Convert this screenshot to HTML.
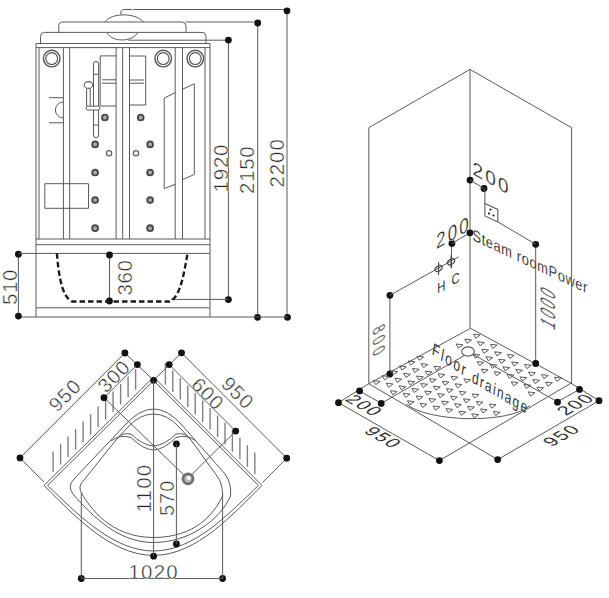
<!DOCTYPE html>
<html><head><meta charset="utf-8"><style>
html,body{margin:0;padding:0;background:#fff;width:609px;height:598px;overflow:hidden}
svg{display:block;font-family:"Liberation Sans",sans-serif}
</style></head><body>
<svg width="609" height="598" viewBox="0 0 609 598">
<rect width="609" height="598" fill="#fff"/>
<line x1="133.0" y1="9.5" x2="287.0" y2="9.5" stroke="#5a5a5a" stroke-width="1.0"/>
<line x1="287.0" y1="10.5" x2="287.0" y2="317.3" stroke="#5a5a5a" stroke-width="1.0"/>
<circle cx="287.0" cy="10.8" r="3.4" fill="#111"/>
<circle cx="287.5" cy="317.3" r="3.4" fill="#111"/>
<line x1="186.0" y1="22.0" x2="257.7" y2="22.0" stroke="#5a5a5a" stroke-width="1.0"/>
<line x1="257.7" y1="22.0" x2="257.7" y2="317.3" stroke="#5a5a5a" stroke-width="1.0"/>
<circle cx="257.7" cy="23.0" r="3.4" fill="#111"/>
<circle cx="257.5" cy="317.3" r="3.4" fill="#111"/>
<line x1="128.5" y1="40.2" x2="228.4" y2="40.2" stroke="#5a5a5a" stroke-width="1.0"/>
<line x1="228.4" y1="40.2" x2="228.4" y2="299.6" stroke="#5a5a5a" stroke-width="1.0"/>
<circle cx="228.4" cy="40.1" r="3.4" fill="#111"/>
<circle cx="228.4" cy="299.6" r="3.4" fill="#111"/>
<line x1="171.0" y1="299.4" x2="228.4" y2="299.4" stroke="#5a5a5a" stroke-width="1.0"/>
<line x1="18.4" y1="317.0" x2="287.5" y2="317.0" stroke="#5a5a5a" stroke-width="1.0"/>
<line x1="18.4" y1="254.2" x2="18.4" y2="316.1" stroke="#5a5a5a" stroke-width="1.0"/>
<circle cx="18.4" cy="254.2" r="3.4" fill="#111"/>
<circle cx="18.4" cy="316.1" r="3.4" fill="#111"/>
<line x1="18.4" y1="253.4" x2="210.0" y2="253.4" stroke="#5a5a5a" stroke-width="1.0"/>
<line x1="109.5" y1="255.0" x2="109.5" y2="301.0" stroke="#5a5a5a" stroke-width="1.0"/>
<circle cx="109.5" cy="255.0" r="3.4" fill="#111"/>
<circle cx="109.5" cy="301.0" r="3.4" fill="#111"/>
<text transform="translate(17,305) rotate(-90)" font-size="20.5" fill="#2a2a2a" stroke="#fff" stroke-width="0.45" letter-spacing="0.6" >510</text>
<text transform="translate(132,295.5) rotate(-90)" font-size="20.5" fill="#2a2a2a" stroke="#fff" stroke-width="0.45" letter-spacing="0.6" >360</text>
<text transform="translate(227.5,192.5) rotate(-90)" font-size="20.5" fill="#2a2a2a" stroke="#fff" stroke-width="0.45" letter-spacing="0.8" >1920</text>
<text transform="translate(254,194) rotate(-90)" font-size="20.5" fill="#2a2a2a" stroke="#fff" stroke-width="0.45" letter-spacing="0.7" >2150</text>
<text transform="translate(283.8,187.5) rotate(-90)" font-size="20.5" fill="#2a2a2a" stroke="#fff" stroke-width="0.45" letter-spacing="0.9" >2200</text>
<path d="M58.8,32.4 V26 Q58.8,22 63,22 H182 Q186,22 186,26 V32.4" stroke="#5a5a5a" stroke-width="1.0" fill="none" />
<path d="M40.5,43.4 V36.4 Q40.5,32.4 44.5,32.4 H202 Q206,32.4 206,36.4 V43.4" stroke="#5a5a5a" stroke-width="1.0" fill="none" />
<path d="M105,22 C111,12.5 136,12.5 143.3,22" stroke="#5a5a5a" stroke-width="1.0" fill="none" />
<path d="M107.3,33 C112,42.3 132,42.3 137.4,33" stroke="#5a5a5a" stroke-width="1.0" fill="none" />
<path d="M121,14.8 Q120,9.5 124,9.5 H132" stroke="#5a5a5a" stroke-width="1.0" fill="none" />
<path d="M36,317 V43.5 H210 V317" stroke="#5a5a5a" stroke-width="1.0" fill="none" />
<line x1="36.0" y1="47.6" x2="210.0" y2="47.6" stroke="#5a5a5a" stroke-width="1.0"/>
<line x1="39.0" y1="47.6" x2="39.0" y2="239.0" stroke="#5a5a5a" stroke-width="1.0"/>
<line x1="205.0" y1="47.6" x2="205.0" y2="239.0" stroke="#5a5a5a" stroke-width="1.0"/>
<line x1="63.4" y1="47.6" x2="63.4" y2="239.0" stroke="#5a5a5a" stroke-width="1.0"/>
<line x1="69.7" y1="47.6" x2="69.7" y2="239.0" stroke="#5a5a5a" stroke-width="1.0"/>
<line x1="116.1" y1="47.6" x2="116.1" y2="239.0" stroke="#5a5a5a" stroke-width="1.0"/>
<line x1="122.7" y1="47.6" x2="122.7" y2="239.0" stroke="#5a5a5a" stroke-width="1.0"/>
<line x1="129.5" y1="47.6" x2="129.5" y2="239.0" stroke="#5a5a5a" stroke-width="1.0"/>
<line x1="175.2" y1="47.6" x2="175.2" y2="239.0" stroke="#5a5a5a" stroke-width="1.0"/>
<line x1="182.5" y1="47.6" x2="182.5" y2="239.0" stroke="#5a5a5a" stroke-width="1.0"/>
<line x1="36.0" y1="239.0" x2="210.0" y2="239.0" stroke="#5a5a5a" stroke-width="1.0"/>
<line x1="36.0" y1="244.7" x2="210.0" y2="244.7" stroke="#5a5a5a" stroke-width="1.0"/>
<line x1="36.0" y1="307.8" x2="210.0" y2="307.8" stroke="#5a5a5a" stroke-width="1.0"/>
<circle cx="51.7" cy="58.6" r="8.3" stroke="#555" stroke-width="1.4" fill="none"/>
<circle cx="51.7" cy="58.6" r="5.9" stroke="#555" stroke-width="1.2" fill="none"/>
<circle cx="163.2" cy="58.6" r="8.3" stroke="#555" stroke-width="1.4" fill="none"/>
<circle cx="163.2" cy="58.6" r="5.9" stroke="#555" stroke-width="1.2" fill="none"/>
<circle cx="195.3" cy="58.6" r="8.3" stroke="#555" stroke-width="1.4" fill="none"/>
<circle cx="195.3" cy="58.6" r="5.9" stroke="#555" stroke-width="1.2" fill="none"/>
<line x1="49.0" y1="97.7" x2="63.4" y2="97.7" stroke="#5a5a5a" stroke-width="1.0"/>
<line x1="49.0" y1="122.8" x2="63.4" y2="122.8" stroke="#5a5a5a" stroke-width="1.0"/>
<path d="M63.4,102 A8,8 0 0 0 63.4,118" stroke="#5a5a5a" stroke-width="1.0" fill="none" />
<path d="M116.1,55.9 H100.2 V106 H116.1" stroke="#5a5a5a" stroke-width="1.0" fill="none" />
<path d="M102,79.8 H116 M102,83.2 H116" stroke="#5a5a5a" stroke-width="1.0" fill="none" />
<path d="M129.5,56 H145.7 V105 H129.5" stroke="#5a5a5a" stroke-width="1.0" fill="none" />
<path d="M130,80 H144 M130,83.2 H144" stroke="#5a5a5a" stroke-width="1.0" fill="none" />
<path d="M93.5,63 Q93.5,61.5 96,61.5 Q98.6,61.5 98.6,63 V136 Q98.6,137.5 96,137.5 Q93.5,137.5 93.5,136 Z" stroke="#5a5a5a" stroke-width="1.0" fill="none" />
<line x1="93.5" y1="74.3" x2="98.6" y2="74.3" stroke="#5a5a5a" stroke-width="1.0"/>
<line x1="93.5" y1="125.0" x2="98.6" y2="125.0" stroke="#5a5a5a" stroke-width="1.0"/>
<ellipse cx="88.5" cy="85" rx="4.3" ry="3.4" stroke="#5a5a5a" stroke-width="1.1" fill="#fff"/>
<path d="M86.6,88.5 V106 M90.2,88.5 V106" stroke="#5a5a5a" stroke-width="1.0" fill="none" />
<path d="M87,106.2 H99 Q101,108 99,110 H87 Q85,108 87,106.2 Z" stroke="#5a5a5a" stroke-width="1.0" fill="#fff" />
<circle cx="104.9" cy="117.5" r="2.9" stroke="#4a4a4a" stroke-width="1.9" fill="#aaa"/>
<circle cx="95.1" cy="144.4" r="2.9" stroke="#4a4a4a" stroke-width="1.9" fill="#aaa"/>
<circle cx="95.1" cy="172.5" r="2.9" stroke="#4a4a4a" stroke-width="1.9" fill="#aaa"/>
<circle cx="95.1" cy="200.1" r="2.9" stroke="#4a4a4a" stroke-width="1.9" fill="#aaa"/>
<circle cx="95.1" cy="228.2" r="2.9" stroke="#4a4a4a" stroke-width="1.9" fill="#aaa"/>
<circle cx="140.7" cy="117.5" r="2.9" stroke="#4a4a4a" stroke-width="1.9" fill="#aaa"/>
<circle cx="150.1" cy="144.4" r="2.9" stroke="#4a4a4a" stroke-width="1.9" fill="#aaa"/>
<circle cx="150.1" cy="172.5" r="2.9" stroke="#4a4a4a" stroke-width="1.9" fill="#aaa"/>
<circle cx="150.1" cy="200.1" r="2.9" stroke="#4a4a4a" stroke-width="1.9" fill="#aaa"/>
<circle cx="150.1" cy="228.2" r="2.9" stroke="#4a4a4a" stroke-width="1.9" fill="#aaa"/>
<circle cx="109.1" cy="153.3" r="2.6" stroke="#606060" stroke-width="1.3" fill="none"/>
<circle cx="136.0" cy="153.3" r="2.6" stroke="#606060" stroke-width="1.3" fill="none"/>
<path d="M175.2,92.6 L164.2,98.2 V188.6 L175.2,184.3" stroke="#5a5a5a" stroke-width="1.0" fill="none" />
<path d="M183,89 L194.3,83.8 V174.5 L183,179.4" stroke="#5a5a5a" stroke-width="1.0" fill="none" />
<path d="M44.8,183.7 H88.5 V208.3 H44.8 Z" stroke="#5a5a5a" stroke-width="1.0" fill="none" />
<path d="M56.9,253.4 C58.5,272 61,296 72,301.5 H169.5 C181,297 184,272 187.6,253.4" stroke="#1a1a1a" stroke-width="2.4" fill="none" stroke-dasharray="5.5,3"/>
<path d="M368.8,383.7 V127.7 L470,69.4 L571.6,127.7 V383.2" stroke="#5a5a5a" stroke-width="1.0" fill="none" />
<line x1="470.0" y1="69.4" x2="470.0" y2="328.3" stroke="#5a5a5a" stroke-width="1.0"/>
<line x1="470.5" y1="328.3" x2="368.8" y2="383.7" stroke="#5a5a5a" stroke-width="1.0"/>
<line x1="470.5" y1="328.3" x2="571.0" y2="383.2" stroke="#5a5a5a" stroke-width="1.0"/>
<line x1="368.8" y1="383.7" x2="497.7" y2="459.6" stroke="#5a5a5a" stroke-width="1.0"/>
<line x1="571.0" y1="383.2" x2="439.4" y2="460.6" stroke="#5a5a5a" stroke-width="1.0"/>
<line x1="469.5" y1="352.5" x2="381.2" y2="403.4" stroke="#5a5a5a" stroke-width="1.0"/>
<line x1="469.5" y1="352.5" x2="557.5" y2="401.7" stroke="#5a5a5a" stroke-width="1.0"/>
<path d="M406,404 C428,422 508,424.5 530,405.5" stroke="#5a5a5a" stroke-width="1.0" fill="none" />
<line x1="338.5" y1="402.7" x2="368.8" y2="383.7" stroke="#5a5a5a" stroke-width="1.0"/>
<line x1="359.6" y1="390.9" x2="381.2" y2="403.4" stroke="#5a5a5a" stroke-width="1.0"/>
<line x1="338.5" y1="402.7" x2="439.4" y2="460.6" stroke="#5a5a5a" stroke-width="1.0"/>
<circle cx="359.6" cy="390.9" r="3.4" fill="#111"/>
<circle cx="338.5" cy="402.7" r="3.4" fill="#111"/>
<circle cx="381.2" cy="403.4" r="3.4" fill="#111"/>
<circle cx="439.4" cy="460.6" r="3.4" fill="#111"/>
<line x1="571.0" y1="383.2" x2="599.0" y2="400.7" stroke="#5a5a5a" stroke-width="1.0"/>
<line x1="557.5" y1="401.7" x2="579.5" y2="389.4" stroke="#5a5a5a" stroke-width="1.0"/>
<line x1="497.7" y1="459.6" x2="599.0" y2="400.7" stroke="#5a5a5a" stroke-width="1.0"/>
<circle cx="579.5" cy="389.4" r="3.4" fill="#111"/>
<circle cx="599.0" cy="400.7" r="3.4" fill="#111"/>
<circle cx="557.5" cy="402.2" r="3.4" fill="#111"/>
<circle cx="497.7" cy="459.6" r="3.4" fill="#111"/>
<line x1="389.9" y1="295.3" x2="389.9" y2="374.0" stroke="#5a5a5a" stroke-width="1.0"/>
<circle cx="389.9" cy="295.3" r="3.4" fill="#111"/>
<circle cx="389.9" cy="374.0" r="3.4" fill="#111"/>
<line x1="389.9" y1="295.3" x2="458.6" y2="256.8" stroke="#5a5a5a" stroke-width="1.0"/>
<line x1="451.5" y1="243.4" x2="451.5" y2="268.0" stroke="#5a5a5a" stroke-width="1.0"/>
<circle cx="451.9" cy="243.4" r="3.4" fill="#111"/>
<line x1="451.9" y1="243.4" x2="470.0" y2="232.8" stroke="#5a5a5a" stroke-width="1.0"/>
<circle cx="470.0" cy="232.8" r="3.4" fill="#111"/>
<ellipse cx="451.1" cy="261.8" rx="3.9" ry="2.5" transform="rotate(-35 451.1 261.8)" stroke="#444" stroke-width="1.2" fill="none"/>
<line x1="451.1" y1="255.3" x2="451.1" y2="268.3" stroke="#444" stroke-width="1.1"/>
<ellipse cx="438.6" cy="268.5" rx="3.9" ry="2.5" transform="rotate(-35 438.6 268.5)" stroke="#444" stroke-width="1.2" fill="none"/>
<line x1="438.6" y1="262.0" x2="438.6" y2="275.0" stroke="#444" stroke-width="1.1"/>
<line x1="535.7" y1="244.3" x2="535.7" y2="363.5" stroke="#5a5a5a" stroke-width="1.0"/>
<circle cx="535.7" cy="244.3" r="3.4" fill="#111"/>
<circle cx="535.7" cy="363.5" r="3.4" fill="#111"/>
<line x1="497.8" y1="221.9" x2="535.7" y2="244.3" stroke="#5a5a5a" stroke-width="1.0"/>
<circle cx="470.0" cy="180.1" r="3.4" fill="#111"/>
<circle cx="484.0" cy="188.5" r="3.4" fill="#111"/>
<line x1="470.0" y1="180.1" x2="484.0" y2="188.5" stroke="#5a5a5a" stroke-width="1.0"/>
<line x1="484.9" y1="188.5" x2="484.9" y2="203.5" stroke="#5a5a5a" stroke-width="1.0"/>
<path d="M484.9,203.5 L497.8,209.4 V221.9 L484.9,216 Z" stroke="#5a5a5a" stroke-width="1.1" fill="none" />
<circle cx="490.5" cy="209.5" r="1.1" fill="#222"/>
<circle cx="489" cy="213.5" r="1.1" fill="#222"/>
<circle cx="493.5" cy="215.5" r="1.1" fill="#222"/>
<ellipse cx="468" cy="351.5" rx="6.3" ry="4.6" stroke="#5a5a5a" stroke-width="1.1" fill="#fff"/>
<path d="M373.3,380.6 L380.1,381.4 L375.7,384.7ZM382.1,375.7 L388.9,376.5 L384.5,379.8ZM386.2,383.2 L393.0,384.0 L388.6,387.3ZM390.4,390.7 L397.2,391.5 L392.8,394.8ZM390.8,370.8 L397.6,371.6 L393.2,374.9ZM394.9,378.3 L401.7,379.1 L397.3,382.4ZM399.1,385.8 L405.9,386.6 L401.5,389.9ZM403.2,393.3 L410.0,394.1 L405.6,397.4ZM407.4,400.8 L414.2,401.6 L409.8,404.9ZM399.5,365.9 L406.3,366.7 L401.9,370.0ZM403.6,373.4 L410.4,374.2 L406.0,377.5ZM407.8,380.9 L414.6,381.7 L410.2,385.0ZM411.9,388.4 L418.7,389.2 L414.3,392.5ZM416.1,395.9 L422.9,396.7 L418.5,400.0ZM420.2,403.4 L427.0,404.2 L422.6,407.5ZM408.2,361.0 L415.0,361.8 L410.6,365.1ZM412.4,368.5 L419.2,369.3 L414.8,372.6ZM416.5,376.0 L423.3,376.8 L418.9,380.1ZM420.7,383.5 L427.5,384.3 L423.1,387.6ZM424.8,391.0 L431.6,391.8 L427.2,395.1ZM429.0,398.5 L435.8,399.3 L431.4,402.6ZM433.1,406.0 L439.9,406.8 L435.5,410.1ZM416.9,356.1 L423.7,356.9 L419.3,360.2ZM421.1,363.6 L427.9,364.4 L423.5,367.7ZM425.2,371.1 L432.0,371.9 L427.6,375.2ZM429.4,378.6 L436.2,379.4 L431.8,382.7ZM433.5,386.1 L440.3,386.9 L435.9,390.2ZM437.7,393.6 L444.5,394.4 L440.1,397.7ZM441.8,401.1 L448.6,401.9 L444.2,405.2ZM446.0,408.6 L452.8,409.4 L448.4,412.7ZM434.0,366.2 L440.8,367.0 L436.4,370.3ZM438.1,373.7 L444.9,374.5 L440.5,377.8ZM442.3,381.2 L449.1,382.0 L444.7,385.3ZM446.4,388.7 L453.2,389.5 L448.8,392.8ZM450.6,396.2 L457.4,397.0 L453.0,400.3ZM454.7,403.7 L461.5,404.5 L457.1,407.8ZM458.9,411.2 L465.7,412.0 L461.3,415.3ZM451.0,376.3 L457.8,377.1 L453.4,380.4ZM455.1,383.8 L461.9,384.6 L457.5,387.9ZM459.3,391.3 L466.1,392.1 L461.7,395.4ZM463.4,398.8 L470.2,399.6 L465.8,402.9ZM467.6,406.3 L474.4,407.1 L470.0,410.4ZM471.7,413.8 L478.5,414.6 L474.1,417.9ZM463.9,378.9 L470.6,379.7 L466.2,383.0ZM472.2,393.9 L478.9,394.7 L474.6,398.0ZM476.3,401.4 L483.1,402.2 L478.7,405.5ZM480.5,408.9 L487.2,409.7 L482.9,413.0ZM456.0,344.0 L462.8,344.8 L458.4,348.1ZM489.2,404.0 L496.0,404.8 L491.6,408.1ZM493.3,411.5 L500.1,412.3 L495.7,415.6ZM464.7,339.1 L471.5,339.9 L467.1,343.2ZM473.0,354.1 L479.8,354.9 L475.4,358.2ZM477.1,361.6 L483.9,362.4 L479.5,365.7ZM481.3,369.1 L488.1,369.9 L483.7,373.2ZM473.4,334.2 L480.2,335.0 L475.8,338.3ZM477.6,341.7 L484.4,342.5 L480.0,345.8ZM481.7,349.2 L488.5,350.0 L484.1,353.3ZM485.9,356.7 L492.7,357.5 L488.3,360.8ZM490.0,364.2 L496.8,365.0 L492.4,368.3ZM494.2,371.7 L501.0,372.5 L496.6,375.8ZM490.4,344.3 L497.2,345.1 L492.8,348.4ZM494.6,351.8 L501.4,352.6 L497.0,355.9ZM498.7,359.3 L505.5,360.1 L501.1,363.4ZM502.9,366.8 L509.7,367.6 L505.3,370.9ZM507.0,374.3 L513.8,375.1 L509.4,378.4ZM511.2,381.8 L518.0,382.6 L513.6,385.9ZM507.4,354.4 L514.2,355.2 L509.8,358.5ZM511.6,361.9 L518.4,362.7 L514.0,366.0ZM515.8,369.4 L522.5,370.2 L518.1,373.5ZM519.9,376.9 L526.7,377.7 L522.3,381.0ZM524.0,384.4 L530.8,385.2 L526.4,388.5ZM528.2,391.9 L535.0,392.7 L530.6,396.0ZM524.5,364.5 L531.3,365.3 L526.9,368.6ZM528.6,372.0 L535.4,372.8 L531.0,376.1ZM532.8,379.5 L539.6,380.3 L535.2,383.6ZM536.9,387.0 L543.7,387.8 L539.3,391.1ZM541.5,374.6 L548.3,375.4 L543.9,378.7ZM545.6,382.1 L552.4,382.9 L548.0,386.2ZM554.4,377.2 L561.2,378.0 L556.8,381.3Z" stroke="#5a5a5a" stroke-width="1.0" fill="none" />
<text transform="translate(472.5,174) skewY(30)" font-size="19" fill="#222" stroke="#fff" stroke-width="0.25" letter-spacing="2.2" >200</text>
<text transform="translate(436,249.5) skewY(-30) scale(1,1.25)" font-size="17" fill="#222" stroke="#fff" stroke-width="0.25" letter-spacing="2.2" >200</text>
<text transform="translate(472.5,240) skewY(25) scale(0.8,1.0)" font-size="16" fill="#222" stroke="#fff" stroke-width="0.15" letter-spacing="0.8" >Steam roomPower</text>
<text transform="translate(437.2,293.5) skewY(-25) scale(0.9,1.15)" font-size="12.5" fill="#333" stroke="#fff" stroke-width="0" letter-spacing="0" >H</text>
<text transform="translate(451.5,285.5) skewY(-25) scale(0.9,1.15)" font-size="12.5" fill="#333" stroke="#fff" stroke-width="0" letter-spacing="0" >C</text>
<text transform="matrix(0,0.7,-0.9,0.52,372.5,329)" font-size="19" fill="#333" stroke="#fff" stroke-width="0.25" letter-spacing="4.6" >800</text>
<text transform="matrix(0,-0.7,1.1,0.63,554.5,331)" font-size="19" fill="#333" stroke="#fff" stroke-width="0.25" letter-spacing="3.8" >1000</text>
<text transform="matrix(0.87,0.5,-0.87,0.5,344,400)" font-size="18" fill="#222" stroke="#fff" stroke-width="0.1" letter-spacing="1.5" >200</text>
<text transform="matrix(0.87,0.5,-0.87,0.5,363,432)" font-size="18" fill="#222" stroke="#fff" stroke-width="0.1" letter-spacing="1.5" >950</text>
<text transform="matrix(0.87,-0.5,0.87,0.5,566,416)" font-size="18" fill="#222" stroke="#fff" stroke-width="0.1" letter-spacing="1.5" >200</text>
<text transform="matrix(0.87,-0.5,0.87,0.5,552,447)" font-size="18" fill="#222" stroke="#fff" stroke-width="0.1" letter-spacing="1.5" >950</text>
<text transform="translate(431.5,354) rotate(10) skewY(24) scale(0.85,1.12)" font-size="15" fill="#333" stroke="#fff" stroke-width="0" letter-spacing="2.2" >Floor</text>
<text transform="translate(471.5,382) rotate(8) skewY(22) scale(0.85,1.12)" font-size="14.5" fill="#333" stroke="#fff" stroke-width="0" letter-spacing="1.8" >drainage</text>
<path d="M153.6,377 L44,485.5 C72,513 110,555.4 153.6,555.4 C197,555.4 234,513 262,485.5 Z" stroke="#5a5a5a" stroke-width="1.0" fill="none" />
<path d="M153.6,380.6 L47.6,485.5 C75,511.5 112,551 153.6,551 C195,551 231,511.5 258.4,485.5 Z" stroke="#5a5a5a" stroke-width="1.0" fill="none" />
<path d="M73,494 Q67,486 74,479 L126,424 Q140,409 153.6,409 Q167,409 181,424 L225,474 Q232,484 230.5,496 C220,520 189,542.5 153.6,542.5 C118.6,542.5 93,517 73,494 Z" stroke="#5a5a5a" stroke-width="1.0" fill="none" />
<path d="M82,494 Q77,486 84,480 L116,440 Q121,432 131,434 Q143,445.5 153.6,446 Q164,445.5 176,434 Q186,432 191,440 L217,476 Q223,484 222.6,496 C214,514 195,537.5 153.6,537.5 C110,537.5 90,507 82,494 Z" stroke="#5a5a5a" stroke-width="1.0" fill="none" />
<path d="M116,440 L128,427 Q140,414 153.6,414 Q167,414 179,427 L191,440" stroke="#5a5a5a" stroke-width="1.0" fill="none" />
<path d="M111,441 Q120,434 131,437.5 Q143,449.5 153.6,450 Q164,449.5 176,437.5 Q187,434 196,441" stroke="#5a5a5a" stroke-width="1.0" fill="none" />
<line x1="53.1" y1="451.6" x2="53.1" y2="472.1" stroke="#808080" stroke-width="1.4"/>
<line x1="60.6" y1="444.1" x2="60.6" y2="464.6" stroke="#808080" stroke-width="1.4"/>
<line x1="68.1" y1="436.6" x2="68.1" y2="457.1" stroke="#808080" stroke-width="1.4"/>
<line x1="75.6" y1="429.1" x2="75.6" y2="449.6" stroke="#808080" stroke-width="1.4"/>
<line x1="83.1" y1="421.6" x2="83.1" y2="442.1" stroke="#808080" stroke-width="1.4"/>
<line x1="90.6" y1="414.1" x2="90.6" y2="434.6" stroke="#808080" stroke-width="1.4"/>
<line x1="98.1" y1="406.6" x2="98.1" y2="427.1" stroke="#808080" stroke-width="1.4"/>
<line x1="105.6" y1="399.1" x2="105.6" y2="419.6" stroke="#808080" stroke-width="1.4"/>
<line x1="113.1" y1="391.6" x2="113.1" y2="412.1" stroke="#808080" stroke-width="1.4"/>
<line x1="120.6" y1="384.1" x2="120.6" y2="404.6" stroke="#808080" stroke-width="1.4"/>
<line x1="128.1" y1="376.6" x2="128.1" y2="397.1" stroke="#808080" stroke-width="1.4"/>
<line x1="135.6" y1="369.1" x2="135.6" y2="389.6" stroke="#808080" stroke-width="1.4"/>
<line x1="165.4" y1="363.2" x2="165.4" y2="384.7" stroke="#808080" stroke-width="1.4"/>
<line x1="172.8" y1="370.6" x2="172.8" y2="392.1" stroke="#808080" stroke-width="1.4"/>
<line x1="180.3" y1="378.1" x2="180.3" y2="399.6" stroke="#808080" stroke-width="1.4"/>
<line x1="187.8" y1="385.6" x2="187.8" y2="407.1" stroke="#808080" stroke-width="1.4"/>
<line x1="195.2" y1="393.0" x2="195.2" y2="414.5" stroke="#808080" stroke-width="1.4"/>
<line x1="202.7" y1="400.5" x2="202.7" y2="422.0" stroke="#808080" stroke-width="1.4"/>
<line x1="210.1" y1="407.9" x2="210.1" y2="429.4" stroke="#808080" stroke-width="1.4"/>
<line x1="217.6" y1="415.4" x2="217.6" y2="436.9" stroke="#808080" stroke-width="1.4"/>
<line x1="225.0" y1="422.8" x2="225.0" y2="444.3" stroke="#808080" stroke-width="1.4"/>
<line x1="232.4" y1="430.2" x2="232.4" y2="451.8" stroke="#808080" stroke-width="1.4"/>
<line x1="239.9" y1="437.7" x2="239.9" y2="459.2" stroke="#808080" stroke-width="1.4"/>
<line x1="247.4" y1="445.2" x2="247.4" y2="466.7" stroke="#808080" stroke-width="1.4"/>
<line x1="254.8" y1="452.6" x2="254.8" y2="474.1" stroke="#808080" stroke-width="1.4"/>
<line x1="20.0" y1="457.9" x2="124.9" y2="353.0" stroke="#5a5a5a" stroke-width="1.0"/>
<line x1="124.9" y1="353.0" x2="153.6" y2="380.3" stroke="#5a5a5a" stroke-width="1.0"/>
<line x1="20.0" y1="457.9" x2="44.0" y2="482.0" stroke="#5a5a5a" stroke-width="1.0"/>
<line x1="137.4" y1="364.6" x2="104.0" y2="397.7" stroke="#5a5a5a" stroke-width="1.0"/>
<line x1="104.0" y1="397.7" x2="187.6" y2="478.6" stroke="#5a5a5a" stroke-width="1.0"/>
<line x1="181.5" y1="352.8" x2="286.7" y2="458.2" stroke="#5a5a5a" stroke-width="1.0"/>
<line x1="181.5" y1="352.8" x2="153.6" y2="380.3" stroke="#5a5a5a" stroke-width="1.0"/>
<line x1="286.7" y1="458.2" x2="262.5" y2="482.5" stroke="#5a5a5a" stroke-width="1.0"/>
<line x1="169.2" y1="364.6" x2="235.7" y2="431.1" stroke="#5a5a5a" stroke-width="1.0"/>
<line x1="235.7" y1="431.1" x2="187.6" y2="478.6" stroke="#5a5a5a" stroke-width="1.0"/>
<circle cx="124.9" cy="353.0" r="3.4" fill="#111"/>
<circle cx="137.4" cy="364.6" r="3.4" fill="#111"/>
<circle cx="153.6" cy="380.3" r="3.4" fill="#111"/>
<circle cx="181.5" cy="352.8" r="3.4" fill="#111"/>
<circle cx="169.2" cy="364.6" r="3.4" fill="#111"/>
<circle cx="20.0" cy="457.9" r="3.4" fill="#111"/>
<circle cx="286.7" cy="458.2" r="3.4" fill="#111"/>
<circle cx="104.0" cy="397.7" r="3.4" fill="#111"/>
<circle cx="235.7" cy="431.1" r="3.4" fill="#111"/>
<circle cx="176.4" cy="443.9" r="3.4" fill="#111"/>
<circle cx="176.4" cy="544.0" r="3.4" fill="#111"/>
<circle cx="153.6" cy="556.2" r="3.4" fill="#111"/>
<circle cx="81.3" cy="578.5" r="3.4" fill="#111"/>
<circle cx="222.6" cy="578.5" r="3.4" fill="#111"/>
<line x1="153.6" y1="380.3" x2="153.6" y2="556.2" stroke="#5a5a5a" stroke-width="1.0"/>
<line x1="176.4" y1="443.9" x2="176.4" y2="544.0" stroke="#5a5a5a" stroke-width="1.0"/>
<line x1="81.3" y1="493.0" x2="81.3" y2="578.5" stroke="#5a5a5a" stroke-width="1.0"/>
<line x1="222.6" y1="493.0" x2="222.6" y2="578.5" stroke="#5a5a5a" stroke-width="1.0"/>
<line x1="81.3" y1="578.5" x2="222.6" y2="578.5" stroke="#5a5a5a" stroke-width="1.0"/>
<circle cx="188.0" cy="478.8" r="5.0" stroke="#6e6e6e" stroke-width="2.8" fill="#bdbdbd"/>
<circle cx="188.8" cy="478" r="1.9" fill="#fff"/>
<text transform="translate(128.5,578.5)" font-size="20.5" fill="#2a2a2a" stroke="#fff" stroke-width="0.45" letter-spacing="1.2" >1020</text>
<text transform="translate(151,512.5) rotate(-90)" font-size="20.5" fill="#2a2a2a" stroke="#fff" stroke-width="0.45" letter-spacing="1.2" >1100</text>
<text transform="translate(174.3,516) rotate(-90)" font-size="20" fill="#2a2a2a" stroke="#fff" stroke-width="0.45" letter-spacing="1" >570</text>
<text transform="translate(57,413) rotate(-45)" font-size="20" fill="#2a2a2a" stroke="#fff" stroke-width="0.45" letter-spacing="1" >950</text>
<text transform="translate(106,394) rotate(-45)" font-size="20" fill="#2a2a2a" stroke="#fff" stroke-width="0.45" letter-spacing="1" >300</text>
<text transform="translate(190,386) rotate(45)" font-size="20" fill="#2a2a2a" stroke="#fff" stroke-width="0.45" letter-spacing="1" >600</text>
<text transform="translate(220,385) rotate(45)" font-size="20" fill="#2a2a2a" stroke="#fff" stroke-width="0.45" letter-spacing="1" >950</text>
</svg></body></html>
